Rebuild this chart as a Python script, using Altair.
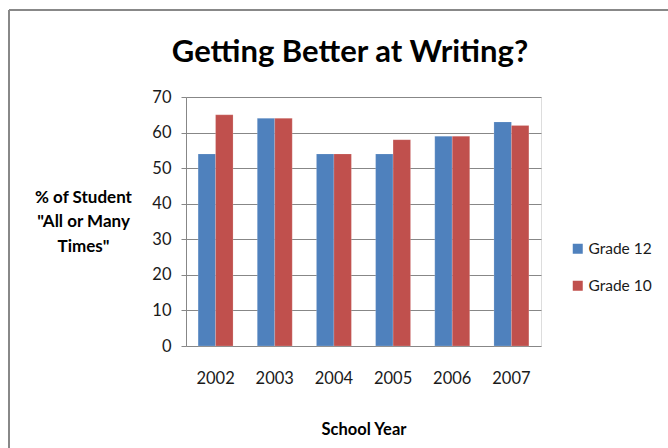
import altair as alt
import pandas as pd

years = ["2002", "2003", "2004", "2005", "2006", "2007"]
grade12 = [54, 64, 54, 54, 59, 63]
grade10 = [65, 64, 54, 58, 59, 62]
series = ["Grade 12", "Grade 10"]
colors = ["#4F81BD", "#C0504D"]
y_ticks = [0, 10, 20, 30, 40, 50, 60, 70]
chart_title = "Getting Better at Writing?"

rows = []
for i, yr in enumerate(years):
    rows.append({"year": yr, "grade": series[0], "pct": grade12[i]})
    rows.append({"year": yr, "grade": series[1], "pct": grade10[i]})
df = pd.DataFrame(rows)

FONT = "Lato"
GRID = "#878787"

bars = alt.Chart(df).mark_bar(size=17.5, stroke="#ffffff", strokeOpacity=0.35, strokeWidth=0.5).encode(
    x=alt.X(
        "year:N",
        sort=years,
        scale=alt.Scale(paddingInner=0.41, paddingOuter=0.205),
        axis=alt.Axis(
            title="School Year",
            titleFont=FONT, titleFontSize=16.5, titleFontWeight="bold", titleColor="#000000",
            titleBaseline="alphabetic", titleY=88,
            labelFont=FONT, labelFontSize=16.5, labelColor="#1a1a1a", labelPadding=24,
            labelAngle=0, ticks=False, domain=False, grid=False,
        ),
    ),
    xOffset=alt.XOffset("grade:N", sort=series),
    y=alt.Y(
        "pct:Q",
        scale=alt.Scale(domain=[0, 70], nice=False),
        axis=alt.Axis(
            values=y_ticks,
            title=["% of Student", "\"All or Many", "Times\""],
            titleAngle=0, titleAlign="center", titleBaseline="top",
            titleX=-103, titleY=92, titleLineHeight=24.5,
            titleFont=FONT, titleFontSize=17, titleFontWeight="bold", titleColor="#000000",
            labelFont=FONT, labelFontSize=16.5, labelColor="#1a1a1a", labelPadding=10,
            tickSize=5, tickColor=GRID, domainColor=GRID, gridColor=GRID,
            grid=True, domain=True,
        ),
    ),
    color=alt.Color(
        "grade:N",
        sort=series,
        scale=alt.Scale(domain=series, range=colors),
        legend=alt.Legend(
            title=None, orient="none", legendX=384, legendY=144,
            symbolType="square", symbolSize=100, symbolStrokeWidth=0,
            labelFont=FONT, labelFontSize=15.5, labelColor="#1a1a1a",
            rowPadding=20, labelOffset=3,
        ),
    ),
)

# outer frame of the chart area (top and left edges visible)
frame_top = alt.Chart(df).mark_rule(color="#888888", strokeWidth=2, clip=False).encode(
    x=alt.value(-177), x2=alt.value(490), y=alt.value(-87)
)
frame_left = alt.Chart(df).mark_rule(color="#888888", strokeWidth=2, clip=False).encode(
    x=alt.value(-177), y=alt.value(-87), y2=alt.value(360)
)

# chart heading, centred over the plot
heading = alt.Chart(pd.DataFrame({"t": [chart_title]})).mark_text(
    font=FONT, fontSize=31, fontWeight="bold", color="#000000",
    align="center", baseline="alphabetic", clip=False,
).encode(text="t:N", x=alt.value(164), y=alt.value(-35))

chart = alt.layer(frame_top, frame_left, bars, heading).properties(
    width=355,
    height=249,
    autosize=alt.AutoSizeParams(type="none"),
    padding={"left": 186, "top": 97, "right": 127, "bottom": 102},
).configure_view(stroke=None).configure(background="#ffffff")

chart.save("out.html", embed_options={"renderer": "svg", "actions": False})
